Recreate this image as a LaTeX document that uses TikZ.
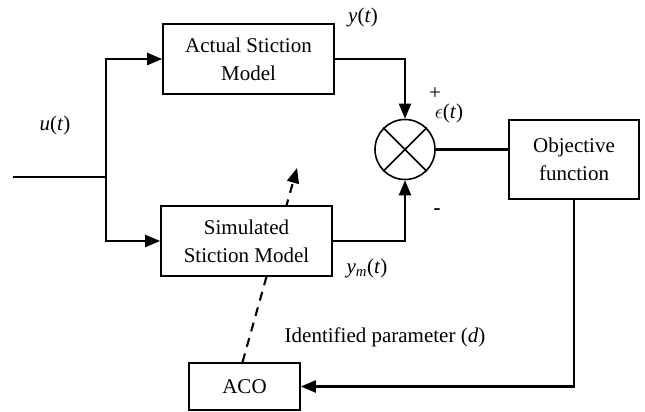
\documentclass[tikz,border=0pt]{standalone}
\usepackage{fontspec}
\setmainfont{Liberation Serif}
\usetikzlibrary{arrows.meta,backgrounds}
\begin{document}
\begin{tikzpicture}[x=1pt,y=-1pt,
  font=\fontsize{21}{28}\selectfont,
  wire/.style={line width=2.1pt},
  block/.style={draw,fill=white,align=center,inner sep=0pt,line width=1.6pt},
  arr/.style={wire,-{Triangle[length=15pt,width=12pt]}},
  lbl/.style={inner sep=0pt,anchor=center}]
\useasboundingbox (0,0) rectangle (645,412);

% blocks
\node[block,minimum width=171pt,minimum height=70pt] (act) at (248.5,59) {Actual Stiction\\Model};
\node[block,minimum width=171pt,minimum height=70pt] (sim) at (246.5,241) {Simulated\\Stiction Model};
\node[block,minimum width=111pt,minimum height=47pt] (aco) at (244.5,386.5) {ACO};
\node[block,minimum width=130pt,minimum height=79pt] (obj) at (574,159.5) {Objective\\function};
\node[draw,circle,minimum size=60pt,inner sep=0pt,line width=1.6pt] (sum) at (405,149.5) {};
\draw[line width=1.6pt] (sum.north west) -- (sum.south east) (sum.north east) -- (sum.south west);

% input branch
\coordinate (in) at (13,177);
\coordinate (j) at (106,177);
\coordinate (tune) at (297,168);
\draw[wire] (in) -- (j);
\draw[arr] (j) |- (act.west);
\draw[arr] (j) |- (sim.west);

% signal paths
\draw[arr] (act.east) -| (sum.north);
\draw[arr] (sim.east) -| (sum.south);
\draw[wire] (sum.east) -- (sum.east -| obj.west);
\draw[arr] (obj.south) |- (aco.east);

% parameter update (behind the model block)
\begin{pgfonlayer}{background}
\draw[arr,dash pattern=on 9pt off 7pt] ([xshift=-2pt]aco.north) -- (tune);
\end{pgfonlayer}

% labels
\node[lbl] at (55,125) {\textit{u}(\textit{t})};
\node[lbl] at (363,17) {\textit{y}(\textit{t})};
\node[lbl] at (435,94) {+};
\node[lbl] at (449,113) {$\epsilon$(\textit{t})};
\node[lbl] at (437,212) {\textbf{-}};
\node[lbl] at (367,268) {\textit{y}\textsubscript{\textit{m}}(\textit{t})};
\node[lbl] at (385,337) {Identified parameter (\textit{d})};
\end{tikzpicture}
\end{document}
